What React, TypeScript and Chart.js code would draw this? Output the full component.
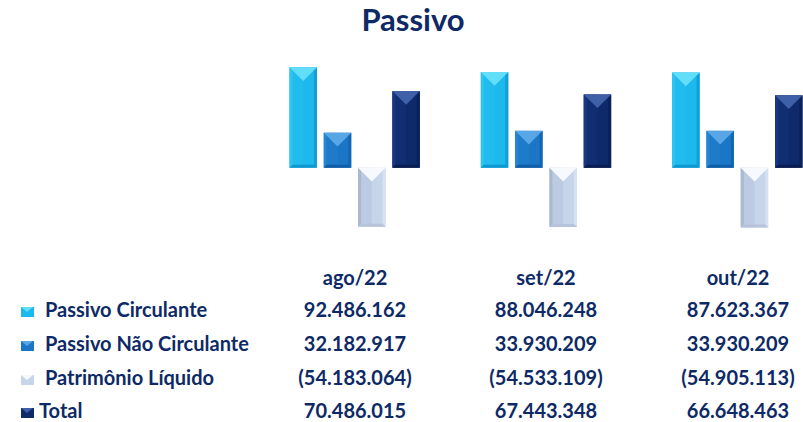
import React, { useEffect, useRef } from "react";
import { Chart, registerables } from "chart.js";

Chart.register(...registerables);

const categories = ["ago/22", "set/22", "out/22"];
const seriesNames = ["Passivo Circulante", "Passivo Não Circulante", "Patrimônio Líquido", "Total"];
const passivoCirculante = [92486162, 88046248, 87623367];
const passivoNaoCirculante = [32182917, 33930209, 33930209];
const patrimonioLiquido = [-54183064, -54533109, -54905113];
const total = [70486015, 67443348, 66648463];
const tableLabels = [
  ["92.486.162", "88.046.248", "87.623.367"],
  ["32.182.917", "33.930.209", "33.930.209"],
  ["(54.183.064)", "(54.533.109)", "(54.905.113)"],
  ["70.486.015", "67.443.348", "66.648.463"],
];

const palette = [
  { base: "#1db9ec", top: "#62def8", left: "#2cc4f2", right: "#109fd6", bottom: "#0f98cf" },
  { base: "#1b77c6", top: "#58a6e6", left: "#2585d2", right: "#1266b4", bottom: "#105ea8" },
  { base: "#c6d5ea", top: "#f6f9fe", left: "#a9b9d0", right: "#d6e2f3", bottom: "#b5c4da" },
  { base: "#0f2a6b", top: "#3f5fa6", left: "#183782", right: "#0b215a", bottom: "#0a1d52" },
];

const FONT = "Lato, 'Open Sans', sans-serif";
const TEXT = "#0e2a66";

const bevelPlugin = {
  id: "bevel",
  afterDatasetsDraw(chart: any) {
    const ctx = chart.ctx;
    chart.data.datasets.forEach((ds: any, di: number) => {
      const meta = chart.getDatasetMeta(di);
      const c = palette[di];
      meta.data.forEach((bar: any) => {
        const p = bar.getProps(["x", "y", "base", "width"], true);
        const l = p.x - p.width / 2;
        const r = p.x + p.width / 2;
        const t = Math.min(p.y, p.base);
        const b = Math.max(p.y, p.base);
        const w = r - l;
        const h = b - t;
        const e = 3;
        ctx.save();
        ctx.fillStyle = c.base;
        ctx.fillRect(l, t, w, h);
        ctx.fillStyle = c.left;
        ctx.globalAlpha = 0.35;
        ctx.fillRect(l, t, w / 2, h);
        ctx.globalAlpha = 1;
        ctx.fillStyle = c.left;
        ctx.beginPath();
        ctx.moveTo(l, t);
        ctx.lineTo(l + e, t + e);
        ctx.lineTo(l + e, b - e);
        ctx.lineTo(l, b);
        ctx.closePath();
        ctx.fill();
        ctx.fillStyle = c.right;
        ctx.beginPath();
        ctx.moveTo(r, t);
        ctx.lineTo(r - e, t + e);
        ctx.lineTo(r - e, b - e);
        ctx.lineTo(r, b);
        ctx.closePath();
        ctx.fill();
        ctx.fillStyle = c.bottom;
        ctx.beginPath();
        ctx.moveTo(l, b);
        ctx.lineTo(l + e, b - e);
        ctx.lineTo(r - e, b - e);
        ctx.lineTo(r, b);
        ctx.closePath();
        ctx.fill();
        const depth = Math.min(w * 0.5, h);
        ctx.fillStyle = c.top;
        ctx.beginPath();
        ctx.moveTo(l, t);
        ctx.lineTo(r, t);
        ctx.lineTo(p.x, t + depth);
        ctx.closePath();
        ctx.fill();
        ctx.restore();
      });
    });
  },
};

function Icon({ idx }: { idx: number }) {
  const c = palette[idx];
  return (
    <div style={{ position: "relative", width: 13, height: 10, background: c.base, overflow: "hidden" }}>
      <div
        style={{
          position: "absolute",
          left: 0,
          top: 0,
          width: 0,
          height: 0,
          borderLeft: "6.5px solid transparent",
          borderRight: "6.5px solid transparent",
          borderTop: `5px solid ${c.top}`,
        }}
      />
    </div>
  );
}

function Text({
  children,
  x,
  baseline,
  size,
  align = "left",
}: {
  children: React.ReactNode;
  x: number;
  baseline: number;
  size: number;
  align?: "left" | "center";
}) {
  const top = baseline - 0.987 * size;
  return (
    <div
      style={{
        position: "absolute",
        left: x,
        top,
        fontFamily: FONT,
        fontWeight: 700,
        fontSize: size,
        lineHeight: `${1.2 * size}px`,
        color: TEXT,
        whiteSpace: "nowrap",
        transform: align === "center" ? "translateX(-50%)" : undefined,
      }}
    >
      {children}
    </div>
  );
}

export default function App() {
  const ref = useRef<HTMLCanvasElement | null>(null);
  useEffect(() => {
    if (!ref.current) return;
    const seriesData = [passivoCirculante, passivoNaoCirculante, patrimonioLiquido, total];
    const chart = new Chart(ref.current, {
      type: "bar",
      data: {
        labels: categories,
        datasets: seriesData.map((d, i) => ({
          label: seriesNames[i],
          data: d,
          backgroundColor: "rgba(0,0,0,0)",
          borderWidth: 0,
          categoryPercentage: 0.717,
          barPercentage: 0.8,
        })),
      },
      options: {
        responsive: false,
        animation: false,
        maintainAspectRatio: false,
        layout: { padding: 0 },
        plugins: { legend: { display: false }, tooltip: { enabled: false }, title: { display: false } },
        scales: {
          x: { display: false, offset: true },
          y: { display: false, min: -60000000, max: 100000000 },
        },
      },
      plugins: [bevelPlugin],
    });
    return () => chart.destroy();
  }, []);

  const colX = [355, 546, 738];
  const rowBaselines = [317, 351, 385, 418];
  const labelX = [45, 45, 45, 39];
  const size = 20;

  return (
    <div style={{ position: "fixed", left: 0, top: 0, width: 803, height: 422, overflow: "hidden", background: "#fff" }}>
      <Text x={413} baseline={32} size={31} align="center">
        Passivo
      </Text>
      <canvas ref={ref} width={574} height={174} style={{ position: "absolute", left: 259, top: 59, width: 574, height: 174 }} />
      {categories.map((c, i) => (
        <Text key={c} x={colX[i]} baseline={285} size={size} align="center">
          {c}
        </Text>
      ))}
      {seriesNames.map((name, r) => (
        <React.Fragment key={name}>
          <div style={{ position: "absolute", left: 21, top: rowBaselines[r] - 10 }}>
            <Icon idx={r} />
          </div>
          <Text x={labelX[r]} baseline={rowBaselines[r]} size={size}>
            {name}
          </Text>
          {tableLabels[r].map((v, i) => (
            <Text key={i} x={colX[i]} baseline={rowBaselines[r]} size={size} align="center">
              {v}
            </Text>
          ))}
        </React.Fragment>
      ))}
    </div>
  );
}
